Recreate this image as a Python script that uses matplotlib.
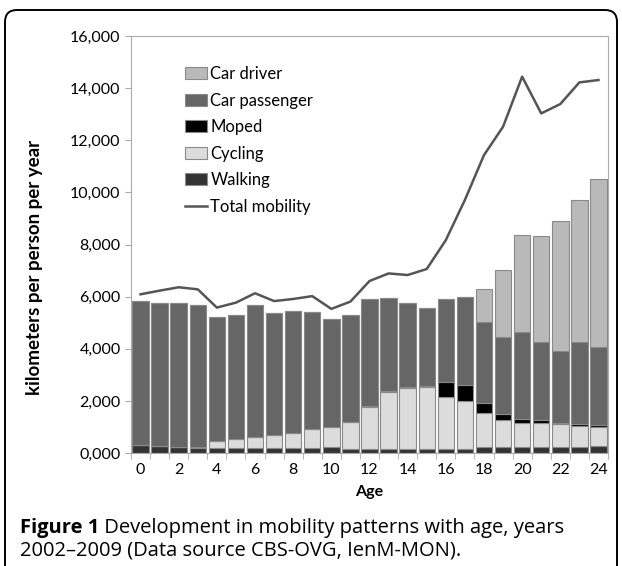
import numpy as np
import matplotlib.pyplot as plt
from matplotlib.patches import FancyBboxPatch

# data (km per person per year)
ages = np.arange(25)
walking = [300, 260, 230, 210, 180, 180, 180, 180, 190, 190, 220, 170, 150,
           140, 140, 150, 150, 170, 220, 220, 220, 220, 220, 250, 260]
cycling = [20, 20, 20, 30, 290, 360, 450, 510, 590, 730, 770, 1020, 1630,
           2210, 2370, 2400, 1990, 1830, 1330, 1030, 930, 940, 890, 800, 730]
moped = [0, 0, 0, 0, 0, 0, 0, 0, 0, 0, 0, 0, 30,
         30, 30, 30, 580, 610, 360, 250, 150, 90, 50, 60, 100]
car_passenger = [5510, 5460, 5490, 5450, 4740, 4770, 5050, 4670, 4680, 4500, 4140, 4110, 4090,
                 3560, 3200, 3000, 3190, 3390, 3130, 2940, 3360, 3020, 2750, 3140, 2990]
car_driver = [0, 0, 0, 0, 0, 0, 0, 0, 0, 0, 0, 0, 0,
              0, 0, 0, 0, 0, 1240, 2580, 3710, 4070, 4980, 5450, 6420]
total = [6090, 6230, 6360, 6280, 5580, 5770, 6130, 5830, 5910, 6020, 5530, 5810, 6600,
         6890, 6830, 7060, 8170, 9710, 11430, 12520, 14440, 13030, 13390, 14220, 14310]

yticks = [0, 2000, 4000, 6000, 8000, 10000, 12000, 14000, 16000]
ytick_labels = ['0,000', '2,000', '4,000', '6,000', '8,000', '10,000', '12,000', '14,000', '16,000']

plt.rcParams['font.family'] = ['Lato', 'DejaVu Sans']

fig = plt.figure(figsize=(6.22, 5.66), dpi=100)
ax = fig.add_axes([0.2106, 0.1996, 0.7669, 0.7368])

series = [(walking, '#333333', 'Walking'),
          (cycling, '#dcdcdc', 'Cycling'),
          (moped, '#000000', 'Moped'),
          (car_passenger, '#666666', 'Car passenger'),
          (car_driver, '#b9b9b9', 'Car driver')]

bottom = np.zeros(len(ages))
handles = {}
for vals, col, lab in series:
    vals = np.array(vals)
    b = ax.bar(ages, vals, 0.86, bottom=bottom, color=col, edgecolor='#8a8a8a',
               linewidth=0.8, label=lab)
    handles[lab] = b
    bottom += vals

ln, = ax.plot(ages, total, color='#555555', lw=1.8, label='Total mobility')
handles['Total mobility'] = ln

ax.set_xlim(-0.5, 24.5)
ax.set_ylim(0, 16000)
ax.set_yticks(yticks)
ax.set_yticklabels(ytick_labels)
ax.set_xticks(np.arange(0, 25, 2))
ax.set_xticks(np.arange(-0.5, 25, 1), minor=True)
ax.tick_params(axis='x', which='major', length=0, pad=7, labelsize=11.5)
ax.tick_params(axis='x', which='minor', length=4, color='#aaaaaa')
ax.tick_params(axis='y', length=4, color='#aaaaaa', labelsize=11.5)
for s in ax.spines.values():
    s.set_color('#aaaaaa')

ax.set_xlabel('Age', fontweight='bold', fontsize=11.5, labelpad=6)
ax.set_ylabel('kilometers per person per year', fontweight='bold', fontsize=13.5)
ax.yaxis.set_label_coords(-0.184, 0.446)

order = ['Car driver', 'Car passenger', 'Moped', 'Cycling', 'Walking', 'Total mobility']
ax.legend([handles[k] for k in order], order, loc='upper left',
          bbox_to_anchor=(0.1, 0.944), frameon=False, fontsize=12,
          handlelength=1.3, handletextpad=0.2, labelspacing=0.63, borderaxespad=0)

# caption: bold "Figure 1" followed by the normal text on the same baseline
cap1 = fig.text(0.032, 0.0583, 'Figure 1', fontweight='bold', fontsize=14.5,
                family='Open Sans', va='baseline')
ax.annotate(' Development in mobility patterns with age, years', xy=(1, 0),
            xycoords=cap1, va='bottom', fontsize=14.5, family='Open Sans',
            annotation_clip=False)
fig.text(0.032, 0.0177, '2002\u20132009 (Data source CBS-OVG, IenM-MON).',
         fontsize=14.5, family='Open Sans', va='baseline')

frame = FancyBboxPatch((0.05, -0.3), 6.12, 5.86, boxstyle='round,pad=0,rounding_size=0.12',
                       transform=fig.dpi_scale_trans, fill=False, edgecolor='black', lw=1.4)
fig.patches.append(frame)

fig.savefig('out.png', dpi=100)
